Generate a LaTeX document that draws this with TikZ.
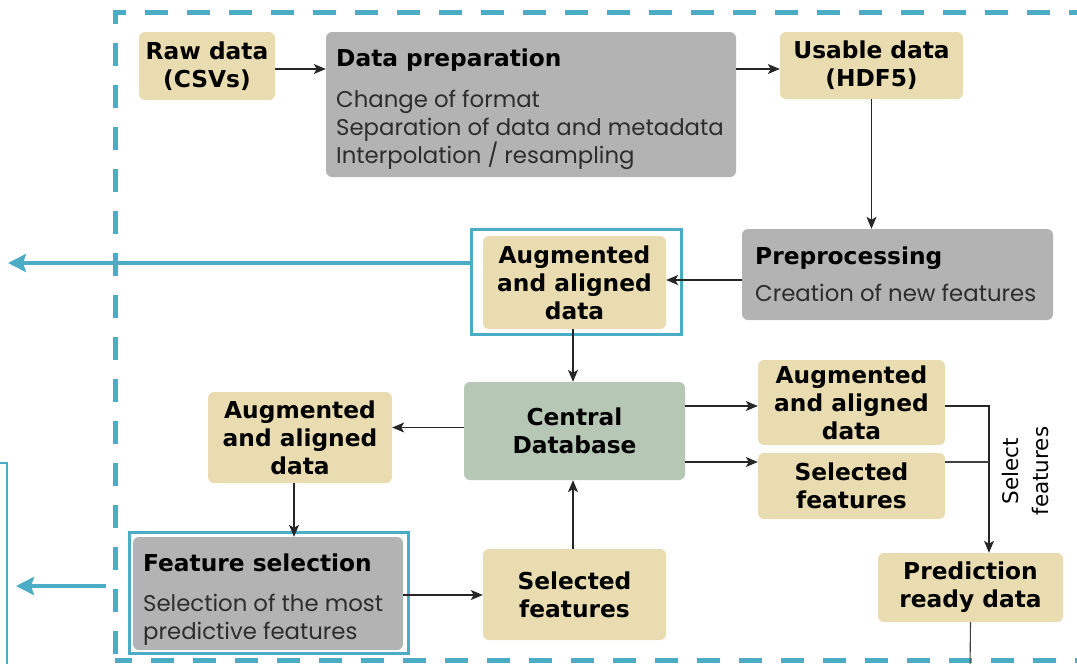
\documentclass[tikz,border=0pt]{standalone}
\usepackage{fontspec}
\setmainfont{DejaVu Sans}
\newfontfamily\bodyfont{Poppins}
\usetikzlibrary{arrows.meta}
\definecolor{tanfill}{RGB}{233,220,176}
\definecolor{grayfill}{RGB}{179,179,179}
\definecolor{dbfill}{RGB}{182,199,181}
\definecolor{teal}{RGB}{75,172,198}
\definecolor{bodytxt}{RGB}{45,45,45}
\tikzset{
  x=1pt, y=-1pt,
  databox/.style={fill=tanfill, rounded corners=6pt, align=center, inner sep=4pt,
    font=\fontsize{23.3}{28}\selectfont\bfseries},
  procbox/.style={fill=grayfill, rounded corners=6pt, inner sep=0pt},
  dbbox/.style={fill=dbfill, rounded corners=6pt, align=center,
    font=\fontsize{23.3}{28}\selectfont\bfseries},
  frame/.style={draw=teal, line width=3pt, inner sep=0pt},
  arr/.style={-{Stealth[length=12pt,width=10pt,inset=3pt]}, line width=1.1pt, draw=black!85},
  plain/.style={line width=1.1pt, draw=black!75},
  bigarr/.style={-{Stealth[length=18pt,width=18pt,inset=3pt]}, line width=3.5pt, draw=teal},
  ptitle/.style={anchor=base west, inner sep=0pt, font=\fontsize{23.3}{28}\selectfont\bfseries},
  pbody/.style={anchor=base west, inner sep=0pt, align=left, text=bodytxt,
    font=\bodyfont\fontsize{22.8}{28}\selectfont},
}
\begin{document}
\begin{tikzpicture}
\useasboundingbox (0,0) rectangle (1077,664);
\clip (0,0) rectangle (1077,664);
% dashed outer border
\draw[teal, line width=5pt, dash pattern=on 23pt off 19pt] (115,1200) -- (115,12) -- (1200,12);
\draw[teal, line width=5pt, dash pattern=on 23pt off 19pt, dash phase=6pt] (115,660) -- (1200,660);
% thin line at left
\draw[teal, line width=2pt] (-5,463) -- (7,463) -- (7,700);

% data nodes
\node[databox, minimum width=136pt, minimum height=68pt] (raw) at (207,66) {Raw data\\(CSVs)};
\node[databox, minimum width=183pt, minimum height=67pt] (usable) at (871.5,65.5) {Usable data\\(HDF5)};
\node[databox, minimum width=183pt, minimum height=93pt] (augtop) at (574.5,282.5) {Augmented\\and aligned\\data};
\node[frame, minimum width=210pt, minimum height=105pt] (augframe) at (576,281.5) {};
\node[dbbox, minimum width=221pt, minimum height=98pt] (central) at (574.5,431) {Central\\Database};
\node[databox, minimum width=184pt, minimum height=91pt] (augleft) at (300,437.5) {Augmented\\and aligned\\data};
\node[databox, minimum width=187pt, minimum height=85pt] (augright) at (851.5,402.5) {Augmented\\and aligned\\data};
\node[databox, minimum width=187pt, minimum height=66pt] (selright) at (851.5,486) {Selected\\features};
\node[databox, minimum width=183pt, minimum height=91pt] (selbot) at (574.5,594.5) {Selected\\features};
\node[databox, minimum width=185pt, minimum height=69pt] (pred) at (970.5,587.5) {Prediction\\ready data};

% process boxes
\node[procbox, minimum width=410pt, minimum height=145pt] (prep) at (531,104.5) {};
\node[ptitle] (preptitle) at (336,66) {Data preparation};
\node[pbody] (prepbody) at (336,163) {Change of format\\Separation of data and metadata\\Interpolation / resampling};

\node[procbox, minimum width=311pt, minimum height=91pt] (preproc) at (897.5,274.5) {};
\node[ptitle] (preproctitle) at (755,264) {Preprocessing};
\node[pbody] (preprocbody) at (755,301) {Creation of new features};

\node[procbox, minimum width=270pt, minimum height=113pt] (fs) at (268,593.5) {};
\node[ptitle] (fstitle) at (143,571) {Feature selection};
\node[pbody] (fsbody) at (143,639) {Selection of the most\\predictive features};
\node[frame, minimum width=279pt, minimum height=121pt] (fsframe) at (268.5,592.5) {};

% connectors
\draw[arr] ([yshift=-3pt]raw.east) -- ([yshift=-3pt]raw.east -| prep.west);
\draw[arr] ([yshift=-3.5pt]usable.west -| prep.east) -- ([yshift=-3.5pt]usable.west);
\draw[arr] (usable.south) -- (usable.south |- preproc.north);
\draw[arr] ([yshift=2.5pt]augtop.east -| preproc.west) -- ([yshift=2.5pt]augtop.east);
\draw[arr] ([xshift=-1.5pt]augtop.south) -- ([xshift=-1.5pt]augtop.south |- central.north);
\draw[arr] ([yshift=3.5pt]central.west) -- ([yshift=3.5pt]central.west -| augleft.east);
\draw[arr] ([yshift=25pt]central.east) -- ([yshift=25pt]central.east -| augright.west);
\draw[arr] ([yshift=-31pt]central.east) -- ([yshift=-31pt]central.east -| selright.west);
\draw[arr] ([xshift=-6pt]augleft.south) -- ([xshift=-6pt]augleft.south |- fs.north);
\draw[arr] ([yshift=-1.5pt]fs.east) -- ([yshift=-1.5pt]fs.east -| selbot.west);
\draw[arr] ([xshift=-1.5pt]selbot.north) -- ([xshift=-1.5pt]selbot.north |- central.south);
\coordinate (jtop) at (989,406);
\coordinate (jmid) at (989,462);
\draw[arr] (jtop -| augright.east) -- (jtop) -- (jtop |- pred.north);
\draw[plain] (jmid -| selright.east) -- (jmid);
\node[rotate=90, align=center, font=\fontsize{21.5}{30}\selectfont] (sellabel) at (1025,471) {Select\\features};
\coordinate (pbot) at (970,670);
\draw[plain] (pred.south) -- (pbot);

% outgoing teal arrows
\coordinate (out1) at (8,263);
\draw[bigarr] (augframe.west |- out1) -- (out1);
\coordinate (out2s) at (106,586);
\coordinate (out2e) at (16,586);
\draw[bigarr] (out2s) -- (out2e);
\end{tikzpicture}
\end{document}
